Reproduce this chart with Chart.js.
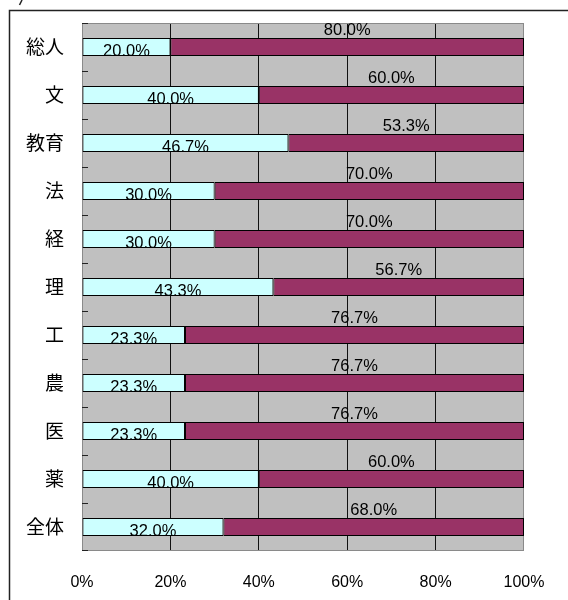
<!DOCTYPE html>
<html><head><meta charset="utf-8">
<script src="https://cdn.jsdelivr.net/npm/chart.js@4/dist/chart.umd.min.js"></script>
<style>html,body{margin:0;padding:0;background:#fff;}#wrap{width:568px;height:600px;}</style>
</head><body><div id="wrap"><canvas id="c" width="568" height="600"></canvas></div>
<script>
const categories = ['総人','文','教育','法','経','理','工','農','医','薬','全体'];
const shareA = [20.0,40.0,46.7,30.0,30.0,43.3,23.3,23.3,23.3,40.0,32.0];
const shareB = [80.0,60.0,53.3,70.0,70.0,56.7,76.7,76.7,76.7,60.0,68.0];
const xTicks = [0,20,40,60,80,100];

const bgPlugin = {
  id:'bg',
  beforeDraw(chart){
    const ctx=chart.ctx, a=chart.chartArea;
    ctx.save();
    ctx.fillStyle='#fff'; ctx.fillRect(0,0,chart.width,chart.height);
    ctx.strokeStyle='#222'; ctx.lineWidth=1.5;
    ctx.beginPath(); ctx.moveTo(9.5,chart.height); ctx.lineTo(9.5,10.5); ctx.lineTo(chart.width,10.5); ctx.stroke();
    ctx.lineWidth=1.5;
    ctx.beginPath(); ctx.moveTo(22,0); ctx.lineTo(19.5,5); ctx.stroke();
    ctx.fillStyle='#C0C0C0'; ctx.fillRect(a.left,a.top,a.right-a.left,a.bottom-a.top);
    ctx.restore();
  },
  beforeDatasetsDraw(chart){
    const ctx=chart.ctx, a=chart.chartArea, ys=chart.scales.y;
    ctx.save();
    ctx.strokeStyle='#8a8a8a'; ctx.lineWidth=1;
    ctx.strokeRect(Math.round(a.left)+0.5,Math.round(a.top)+0.5,Math.round(a.right-a.left)-1,Math.round(a.bottom-a.top)-1);
    ctx.strokeStyle='#222';
    const n=categories.length;
    const step=ys.getPixelForValue(1)-ys.getPixelForValue(0);
    for(let i=0;i<=n;i++){
      const y = i<n ? ys.getPixelForValue(i)-step/2 : a.bottom-1;
      ctx.beginPath(); ctx.moveTo(a.left,Math.round(y)+0.5); ctx.lineTo(a.left+6,Math.round(y)+0.5); ctx.stroke();
    }
    ctx.restore();
  },
  afterDatasetsDraw(chart){
    const ctx=chart.ctx;
    ctx.save();
    ctx.font='16.5px "Liberation Sans", Arial, sans-serif';
    ctx.fillStyle='#000'; ctx.textAlign='center'; ctx.textBaseline='alphabetic';
    chart.data.datasets.forEach((ds,di)=>{
      const meta=chart.getDatasetMeta(di);
      meta.data.forEach((bar,i)=>{
        const p=bar.getProps(['x','y','base','height'],true);
        const cx=(p.x+p.base)/2;
        const txt=ds.data[i].toFixed(1)+'%';
        const y = di===0 ? p.y+p.height/2-0.5 : p.y-p.height/2-3.5;
        ctx.fillText(txt,cx,y);
      });
    });
    ctx.restore();
  }
};

new Chart(document.getElementById('c'),{
  type:'bar',
  data:{
    labels:categories,
    datasets:[
      {data:shareA,backgroundColor:'#CCFFFF',borderColor:'#000',borderWidth:1,borderSkipped:false,barPercentage:0.375,categoryPercentage:1},
      {data:shareB,backgroundColor:'#993366',borderColor:'#000',borderWidth:1,borderSkipped:false,barPercentage:0.375,categoryPercentage:1}
    ]
  },
  options:{
    indexAxis:'y',
    responsive:false,
    animation:false,
    devicePixelRatio:1,
    layout:{padding:{top:23,right:44,left:0,bottom:0}},
    plugins:{legend:{display:false},tooltip:{enabled:false},title:{display:false}},
    scales:{
      x:{
        stacked:true,min:0,max:100,
        afterBuildTicks(s){ s.ticks = xTicks.map(v=>({value:v})); },
        afterFit(s){ s.height=49; s.paddingLeft=0; s.paddingRight=0; },
        grid:{drawTicks:false,color:(c)=> (c.tick && (c.tick.value===0||c.tick.value===100)) ? 'rgba(0,0,0,0)' : '#111',lineWidth:1},
        border:{display:false},
        ticks:{padding:22,color:'#000',font:{family:'"Liberation Sans", Arial, sans-serif',size:16},callback:(v)=>v+'%'}
      },
      y:{
        stacked:true,
        afterFit(s){ s.width=82; s.paddingTop=0; s.paddingBottom=0; },
        grid:{display:false,drawTicks:false},
        border:{display:false},
        ticks:{padding:18,color:'#000',font:{family:'"Noto Sans CJK JP", sans-serif',size:19}}
      }
    }
  },
  plugins:[bgPlugin]
});
</script></body></html>
